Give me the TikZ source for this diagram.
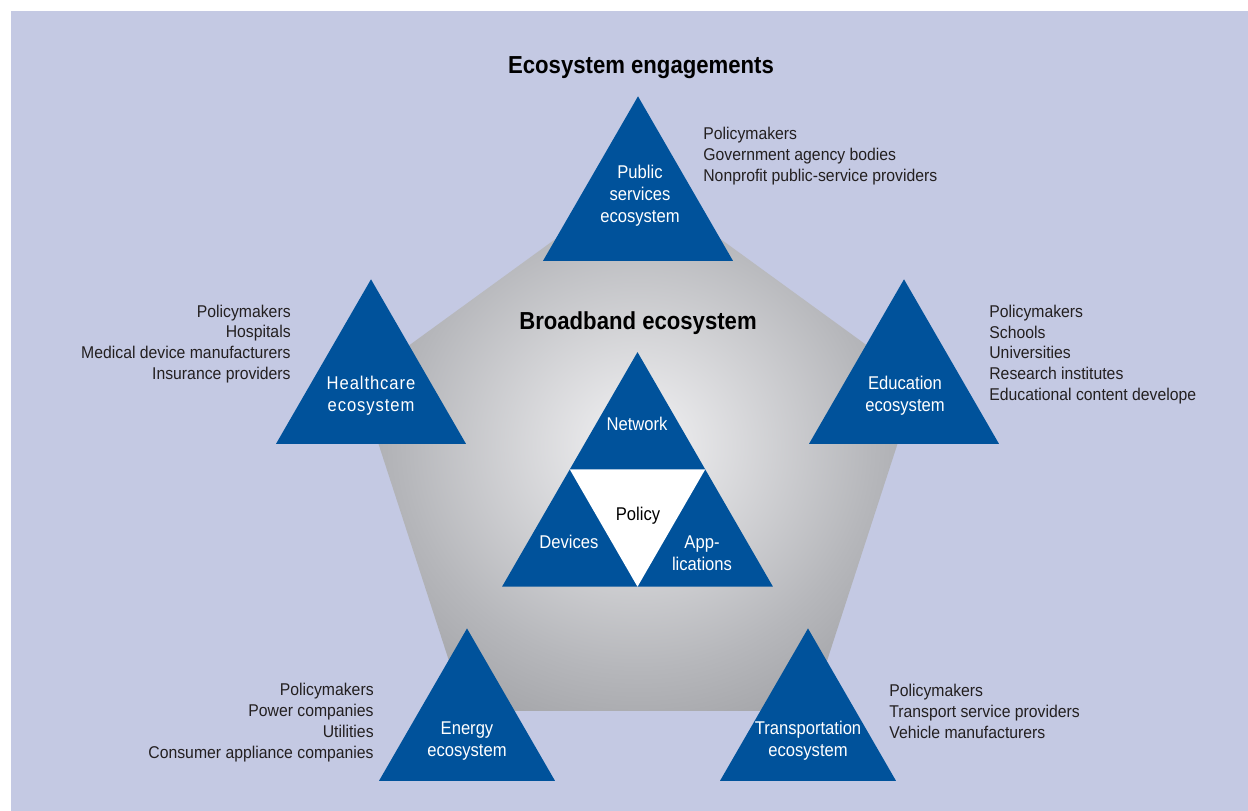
\documentclass[tikz,border=0pt]{standalone}
\usepackage{fontspec}
\setmainfont[FakeStretch=0.9]{Liberation Sans}
\newfontfamily\trackfont[FakeStretch=0.9,LetterSpace=5]{Liberation Sans}
\newfontfamily\listfont[FakeStretch=0.925]{Liberation Sans}
\usetikzlibrary{shapes.geometric}
\definecolor{ecoblue}{RGB}{0,82,155}
\definecolor{bgblue}{RGB}{196,201,227}
\definecolor{textblack}{RGB}{35,31,32}
\definecolor{pentalight}{RGB}{234,234,236}
\definecolor{pentamid}{RGB}{182,183,187}
\definecolor{pentadark}{RGB}{140,141,145}
\pgfdeclareradialshading{pentashade}{\pgfpoint{0bp}{0bp}}{color(0bp)=(pentalight); color(3bp)=(pentalight); color(21bp)=(pentamid); color(38bp)=(pentadark); color(50bp)=(pentadark)}
\tikzset{
  tri/.style={regular polygon, regular polygon sides=3, fill=ecoblue,
    inner sep=0pt, outer sep=0pt, minimum size=#1},
  trilabel/.style={text=white, align=center, inner sep=0pt,
    font=\fontsize{10.5}{12.5}\selectfont},
  listtext/.style={text=textblack, inner sep=0pt,
    font=\listfont\fontsize{9.7}{11.9}\selectfont},
  heading/.style={text=black, inner sep=0pt,
    font=\bfseries\fontsize{14}{16}\selectfont}
}
\begin{document}
\begin{tikzpicture}[x=0.02cm, y=-0.02cm]
\useasboundingbox (0,0) rectangle (1248,811);
\fill [white] (0,0) rectangle (1248,811);
\fill [bgblue] (11,11) rectangle (1248,811);
% pentagon behind everything
\node [regular polygon, regular polygon sides=5, shade, shading=pentashade,
  inner sep=0pt, minimum size=11.76cm] (penta) at (638,473) {};
% outer ecosystems
\node [tri=4.388cm] (public) at (638,206) {};
\node [tri=4.388cm] (health) at (371,389) {};
\node [tri=4.388cm] (educ) at (904,389) {};
\node [tri=4.064cm] (energy) at (467,730) {};
\node [tri=4.064cm] (transport) at (808,730) {};
% core triangle
\node [tri=6.258cm] (core) at (637.5,508.5) {};
\node [tri=3.13cm, fill=white, shape border rotate=180] (policy) at (637.5,508.5) {};
\node [heading] (engage) at (641,68) {Ecosystem engagements};
\node [heading] (broadband) at (638,323) {Broadband ecosystem};
\node [trilabel] (publictext) at (640,196) {Public\\services\\ecosystem};
\node [trilabel, font=\trackfont\fontsize{10.5}{12.5}\selectfont] (healthtext)
  at (371,396) {Healthcare\\ecosystem};
\node [trilabel] (eductext) at (905,396) {Education\\ecosystem};
\node [trilabel] (energytext) at (467,741) {Energy\\ecosystem};
\node [trilabel] (transporttext) at (808,741) {Transportation\\ecosystem};
\node [trilabel] (network) at (637,424) {Network};
\node [trilabel] (devices) at (569,542) {Devices};
\node [trilabel, text=black] (policytext) at (638,516) {Policy};
\node [trilabel] (apps) at (702,553) {App-\\lications};
% stakeholder lists
\node [listtext, anchor=west, align=left] (publiclist) at (703,156.5)
  {Policymakers\\Government agency bodies\\Nonprofit public-service providers};
\node [listtext, anchor=east, align=right] (healthlist) at (291,344)
  {Policymakers\\Hospitals\\Medical device manufacturers\\Insurance providers};
\begin{scope}
\clip (11,11) rectangle (1196,811);
\node [listtext, anchor=west, align=left] (educlist) at (989,354.5)
  {Policymakers\\Schools\\Universities\\Research institutes\\Educational content developers};
\end{scope}
\node [listtext, anchor=east, align=right] (energylist) at (374,722.5)
  {Policymakers\\Power companies\\Utilities\\Consumer appliance companies};
\node [listtext, anchor=west, align=left] (transportlist) at (889,711.5)
  {Policymakers\\Transport service providers\\Vehicle manufacturers};
\end{tikzpicture}
\end{document}
